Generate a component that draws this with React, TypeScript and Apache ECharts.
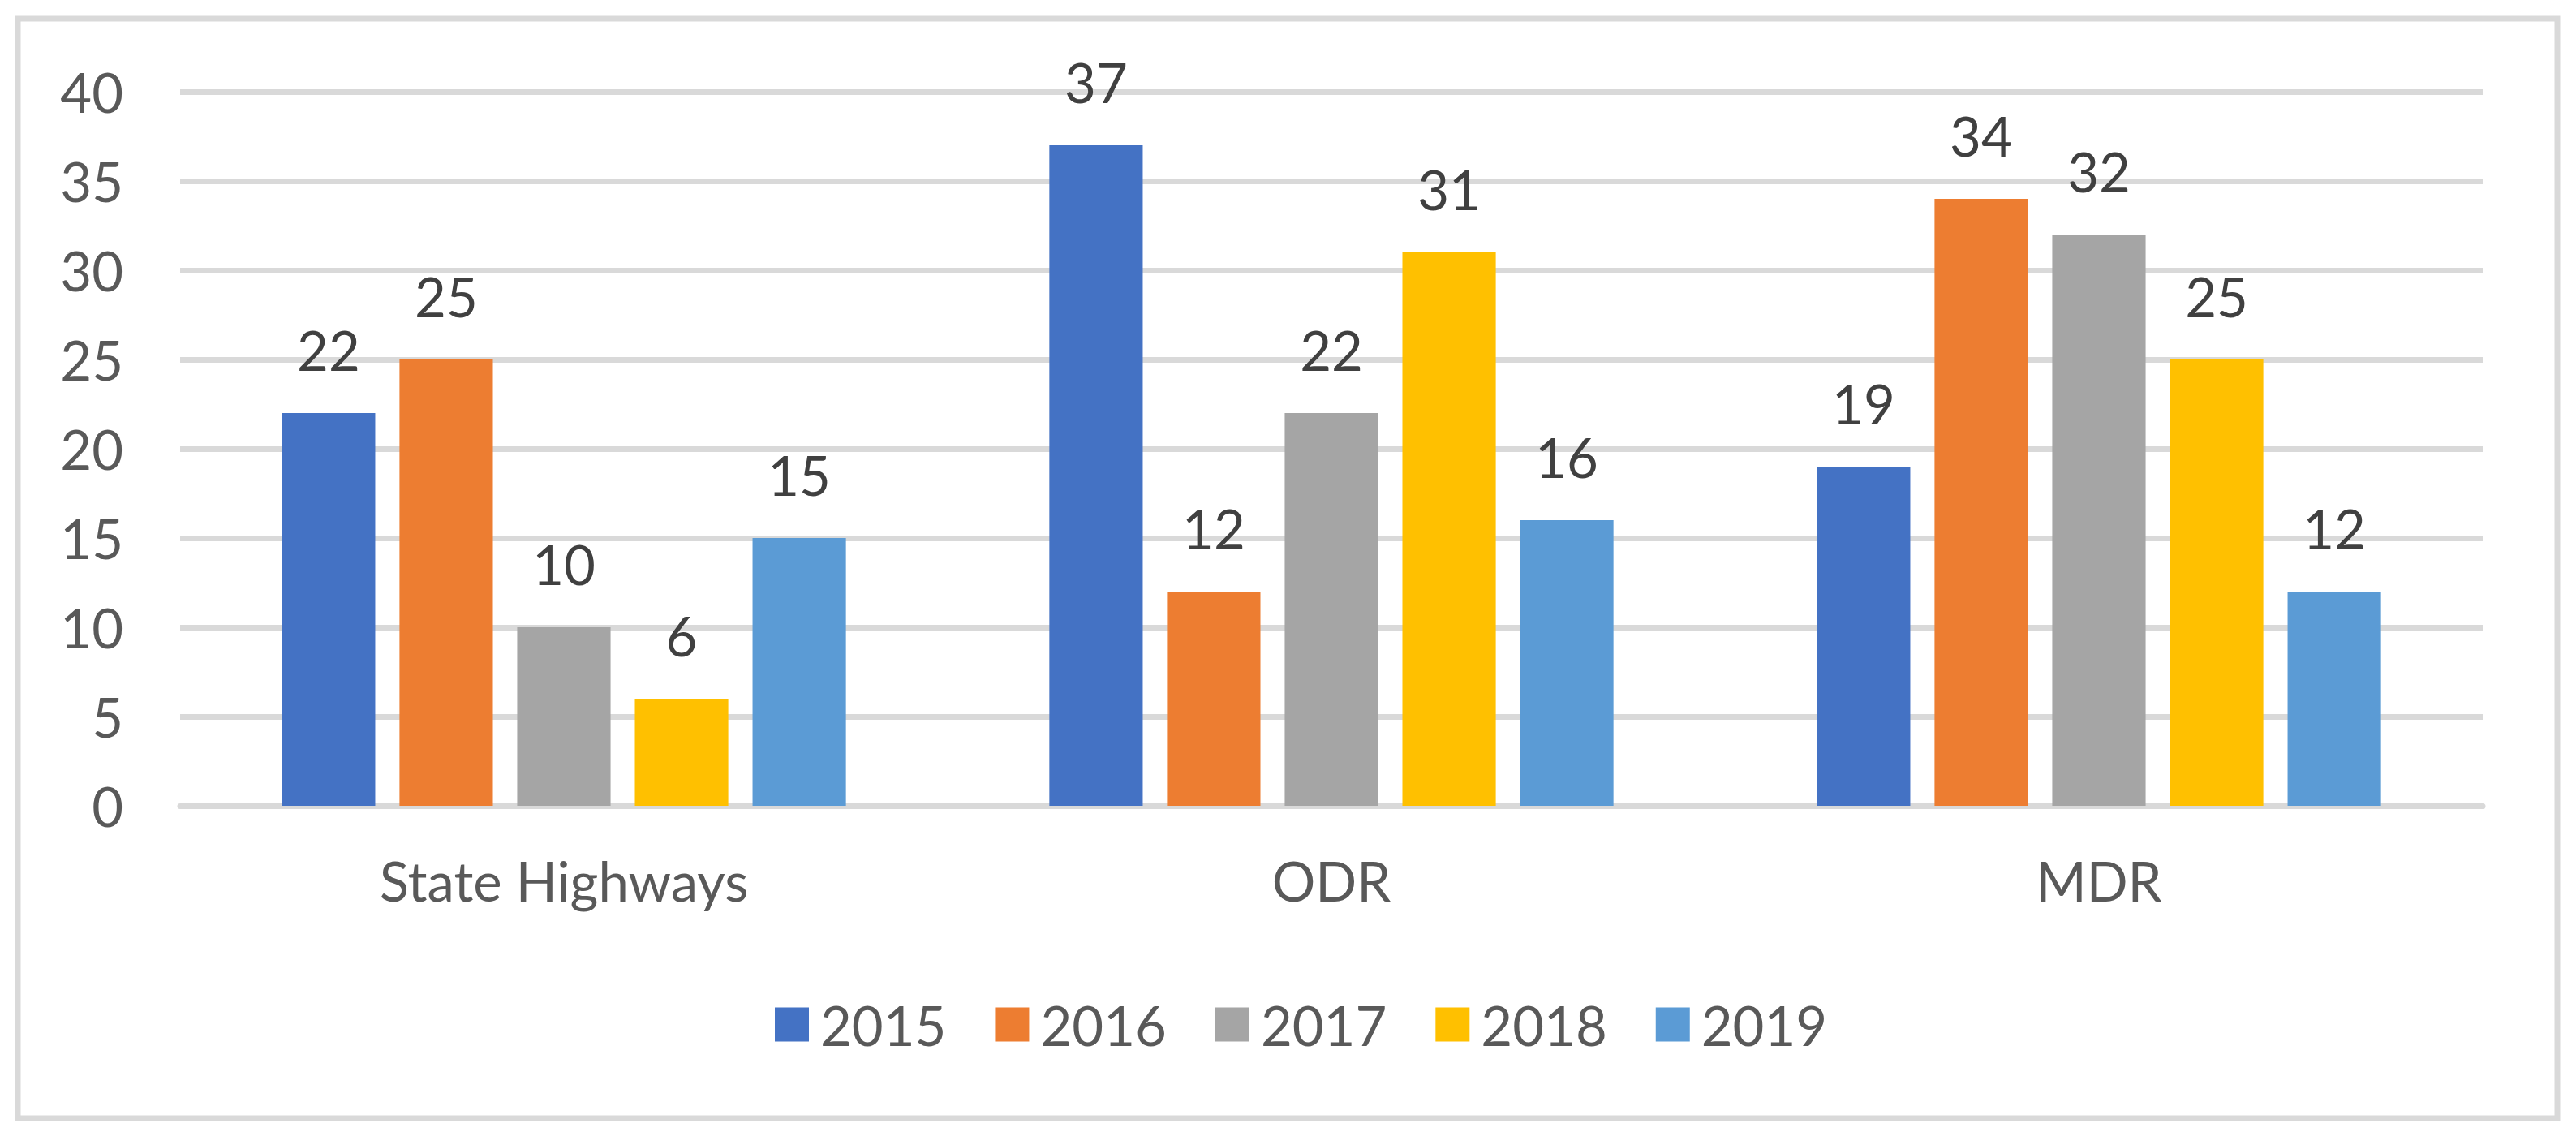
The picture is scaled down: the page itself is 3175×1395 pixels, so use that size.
import React, { useEffect, useRef } from "react";
import * as echarts from "echarts";

const categories = ["State Highways", "ODR", "MDR"];
const years = ["2015", "2016", "2017", "2018", "2019"];
const values2015 = [22, 37, 19];
const values2016 = [25, 12, 34];
const values2017 = [10, 22, 32];
const values2018 = [6, 31, 25];
const values2019 = [15, 16, 12];
const seriesValues = [values2015, values2016, values2017, values2018, values2019];
const colors = ["#4472C4", "#ED7D31", "#A5A5A5", "#FFC000", "#5B9BD5"];

const FONT = "Lato";
const FS = 67;

export default function App() {
  const ref = useRef<HTMLDivElement>(null);
  useEffect(() => {
    if (!ref.current) return;
    const chart = echarts.init(ref.current, undefined, { renderer: "svg" });
    chart.setOption({
      animation: false,
      backgroundColor: "#ffffff",
      textStyle: { fontFamily: FONT },
      graphic: [
        {
          type: "rect",
          shape: { x: 22, y: 23, width: 3130, height: 1355 },
          style: { fill: "none", stroke: "#d9d9d9", lineWidth: 7 },
          z: 0,
        },
      ],
      grid: { left: 222, right: 115, top: 113, bottom: 402, containLabel: false },
      legend: {
        data: years,
        left: 950,
        top: 1224,
        icon: "rect",
        itemWidth: 42,
        itemHeight: 42,
        itemGap: 60,
        textStyle: { fontFamily: FONT, fontSize: FS, color: "#595959", padding: [0, 0, 0, 9] },
      },
      xAxis: {
        type: "category",
        data: categories,
        axisLine: { show: true, lineStyle: { color: "#d9d9d9", width: 7 } },
        axisTick: { show: false },
        axisLabel: { fontFamily: FONT, fontSize: FS, color: "#595959", margin: 58 },
      },
      yAxis: {
        type: "value",
        min: 0,
        max: 40,
        interval: 5,
        axisLine: { show: false },
        axisTick: { show: false },
        splitLine: { lineStyle: { color: "#d9d9d9", width: 7 } },
        axisLabel: { fontFamily: FONT, fontSize: FS, color: "#595959", margin: 70 },
      },
      series: years.map((y, i) => ({
        name: y,
        type: "bar",
        data: seriesValues[i],
        itemStyle: { color: colors[i] },
        barGap: "26%",
        barCategoryGap: "26.5%",
        label: {
          show: true,
          position: "top",
          distance: 45,
          fontFamily: FONT,
          fontSize: FS,
          color: "#404040",
        },
      })),
    });
    return () => chart.dispose();
  }, []);
  return (
    <div
      ref={ref}
      style={{ position: "fixed", left: 0, top: 0, width: 3175, height: 1395 }}
    />
  );
}
